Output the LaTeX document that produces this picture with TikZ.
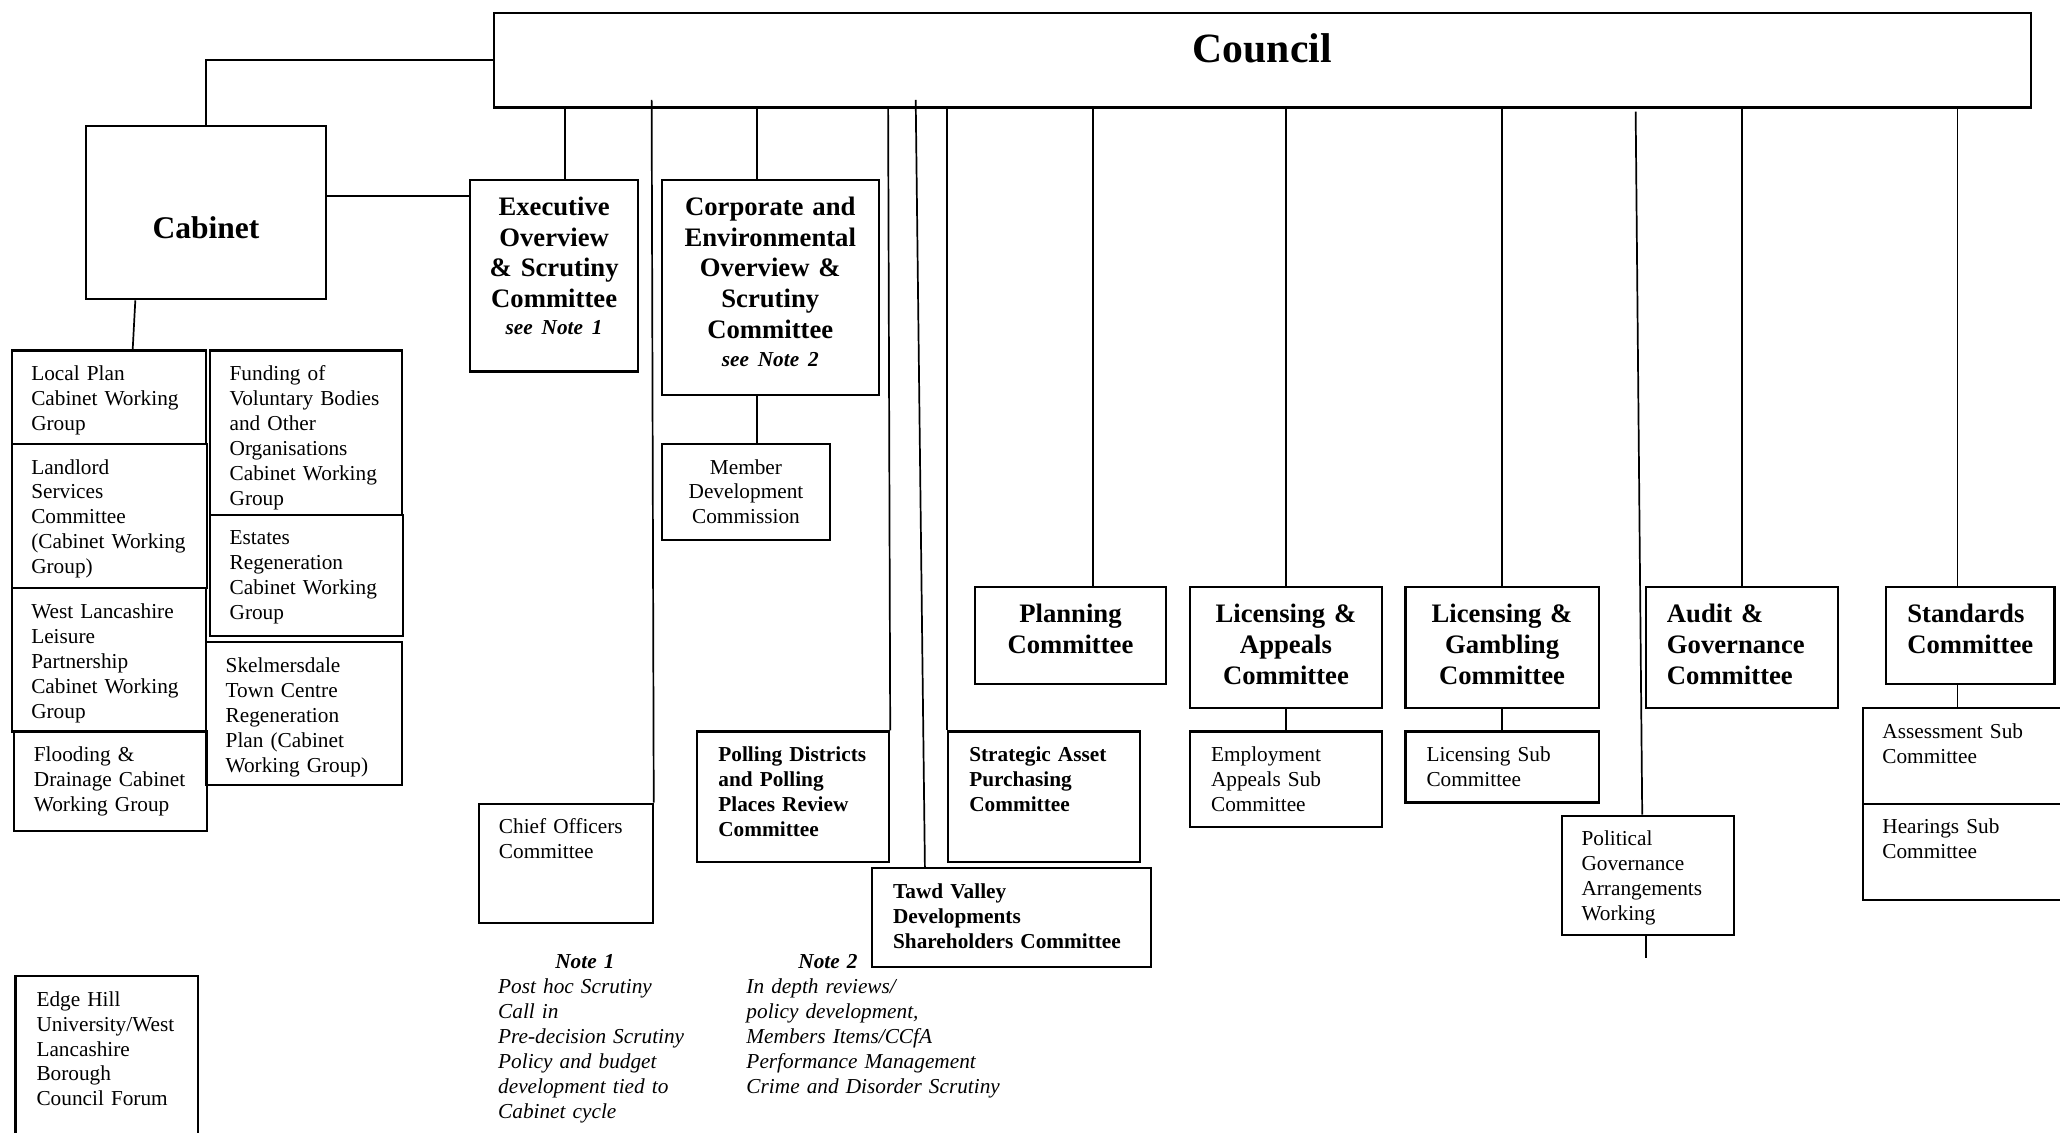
\documentclass[tikz,border=0pt]{standalone}
\usepackage{fontspec}
\setmainfont{Liberation Serif}
\usepackage{tikz}

\newcommand{\txtfont}{\fontsize{16.2pt}{19pt}\selectfont}
\newcommand{\headfont}{\fontsize{20.3pt}{23.5pt}\selectfont\bfseries}
\newcommand{\notefont}{\txtfont\bfseries\itshape}

\begin{document}
\begin{tikzpicture}[x=1pt, y=-1pt]
		\tikzstyle{wg} = [draw, line width=1.6pt, anchor=north west, inner xsep=15pt, inner ysep=0pt, align=left, font=\txtfont, text height=23pt]
		\tikzstyle{head} = [draw, line width=1.6pt, anchor=north west, inner sep=0pt, align=center, font=\headfont, text height=27pt]
		\tikzstyle{link} = [line width=1.3pt]
		
		\fill[white] (0,0) rectangle (1568,862);
		\useasboundingbox (0,0) rectangle (1568,862);
		
		\node[head, font=\fontsize{31.7pt}{36pt}\selectfont\bfseries, text width=1170pt, text height=38pt, text depth=34pt] at (375,9) (cou) {Council};
		\node[head, font=\fontsize{24pt}{28pt}\selectfont\bfseries, text width=182pt, text height=86pt, text depth=46pt] at (65,95) (cab) {Cabinet};
		
		\node[wg, text width=118pt, text depth=48pt] at (8,266) (lp) {Local Plan\\Cabinet Working\\Group};
		\node[wg, text width=119pt, text depth=87pt] at (8,337) (land) {Landlord\\Services\\Committee\\(Cabinet Working\\Group)};
		\node[wg, text width=118pt, text depth=86pt] at (8,447) (wll) {West Lancashire\\Leisure\\Partnership\\Cabinet Working\\Group};
		\node[wg, text width=117pt, text depth=53pt] at (10,556) (flood) {Flooding \&\\Drainage Cabinet\\Working Group};
		\node[wg, text width=116pt, text depth=102pt] at (159,266) (fund) {Funding of\\Voluntary Bodies\\and Other\\Organisations\\Cabinet Working\\Group};
		\node[wg, text width=117pt, text depth=69pt] at (159,391) (est) {Estates\\Regeneration\\Cabinet Working\\Group};
		\node[wg, text width=119pt, text depth=86pt] at (156,488) (skel) {Skelmersdale\\Town Centre\\Regeneration\\Plan (Cabinet\\Working Group)};
		\node[wg, inner xsep=16pt, text width=107pt, text depth=105pt] at (11,742) (edge) {Edge Hill\\University/West\\Lancashire\\Borough\\Council Forum};
		
		\node[head, text width=128pt, text depth=119pt] at (357,136) (exe) {Executive\\Overview\\\& Scrutiny\\Committee\\[-3pt]{\notefont see Note 1}};
		\node[head, text width=165pt, text depth=137pt] at (503,136) (corp) {Corporate and\\Environmental\\Overview \&\\Scrutiny\\Committee\\[-2.5pt]{\notefont see Note 2}};
		\node[wg, align=center, inner xsep=0pt, text width=128pt, text depth=50pt] at (503,337) (mdc) {Member\\Development\\Commission};
		\node[wg, text width=102pt, text depth=68pt] at (364,611) (chief) {Chief Officers\\Committee};
		\node[wg, font=\txtfont\bfseries, inner xsep=16pt, text width=114pt, text depth=76pt] at (530,556) (poll) {Polling Districts\\and Polling\\Places Review\\Committee};
		\node[wg, font=\txtfont\bfseries, inner xsep=16pt, text width=114pt, text depth=76pt] at (721,556) (sap) {Strategic Asset\\Purchasing\\Committee};
		\node[wg, font=\txtfont\bfseries, inner xsep=16pt, text width=180pt, text depth=52pt] at (663,660) (tawd) {Tawd Valley\\Developments\\Shareholders Committee};
		
		\node[head, text width=146pt, text depth=47pt] at (741,446) (plan) {Planning\\Committee};
		\node[head, text width=146pt, text depth=65pt] at (905,446) (lapp) {Licensing \&\\Appeals\\Committee};
		\node[wg, inner xsep=16pt, text width=114pt, text depth=50pt] at (905,556) (emp) {Employment\\Appeals Sub\\Committee};
		\node[head, text width=147pt, text depth=65pt] at (1069,446) (lgam) {Licensing \&\\Gambling\\Committee};
		\node[wg, inner xsep=16pt, text width=115pt, text depth=31pt] at (1069,556) (lsub) {Licensing Sub\\Committee};
		\node[wg, text width=101pt, text depth=68pt] at (1188,620) (pol) {Political\\Governance\\Arrangements\\Working};
		\node[head, align=left, inner xsep=16pt, text width=114pt, text depth=65pt] at (1252,446) (aud) {Audit \&\\Governance\\Committee};
		\node[head, align=left, inner xsep=16pt, text width=96pt, text depth=47pt] at (1435,446) (std) {Standards\\Committee};
		\node[wg, text width=128pt, text depth=50pt] at (1417,538) (ass) {Assessment Sub\\Committee};
		\node[wg, text width=128pt, text depth=50pt] at (1417,611) (hear) {Hearings Sub\\Committee};
		
		\node[anchor=base west, inner sep=0pt, align=left, font=\txtfont\itshape, text width=170pt] at (379,737) (note1) {\makebox[132pt]{\bfseries Note 1}\\Post hoc Scrutiny\\Call in\\Pre-decision Scrutiny\\Policy and budget\\development tied to\\Cabinet cycle};
		\node[anchor=base west, inner sep=0pt, align=left, font=\txtfont\itshape, text width=210pt] at (568,737) (note2) {\makebox[124pt]{\bfseries Note 2}\\In depth reviews/\\policy development,\\Members Items/CCfA\\Performance Management\\Crime and Disorder Scrutiny};
		
		\coordinate (t1) at (496,76);
		\coordinate (t2) at (697,76);
		\coordinate (t3) at (1245,85);
		\coordinate (t4) at (1253,729);
		
		\draw[link] (cou.west) -| (cab.north);
		\draw[link] (cab.east |- 0,149) -- (exe.west |- 0,149);
		\draw[link] (cab.south -| 103,0) -- (lp.north -| 101,0);
		\draw[link] (cou.south -| 430,0) -- (exe.north -| 430,0);
		\draw[link] (t1) -- (chief.north east);
		\draw[link] (cou.south -| 576,0) -- (corp.north -| 576,0);
		\draw[link] (corp.south -| 576,0) -- (mdc.north -| 576,0);
		\draw[link] (cou.south -| 676,0) -- (poll.north east);
		\draw[link] (t2) -- (tawd.north -| 704,0);
		\draw[link] (cou.south -| 721,0) -- (sap.north west);
		\draw[link] (cou.south -| 832,0) -- (plan.north -| 832,0);
		\draw[link] (cou.south -| lapp.north) -- (lapp.north);
		\draw[link] (lapp.south) -- (emp.north);
		\draw[link] (cou.south -| lgam.north) -- (lgam.north);
		\draw[link] (lgam.south) -- (lsub.north);
		\draw[link] (t3) -- (pol.north -| 1250,0);
		\draw[link] (pol.south -| t4) -- (t4);
		\draw[link] (cou.south -| aud.north) -- (aud.north);
		\draw[link] (cou.south -| 1490,0) -- (std.north -| 1490,0);
		\draw[link] (std.south -| 1490,0) -- (ass.north -| 1490,0);
\end{tikzpicture}
\end{document}
